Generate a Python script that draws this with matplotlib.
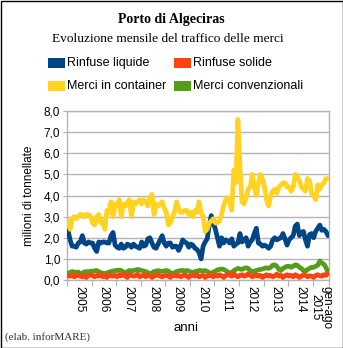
import matplotlib
matplotlib.use("Agg")
import matplotlib.pyplot as plt
from matplotlib.patches import Rectangle
from matplotlib.ticker import FuncFormatter
import numpy as np

# monthly values, million tonnes, Jan 2005 .. Aug 2015
years = ["2005", "2006", "2007", "2008", "2009", "2010", "2011", "2012", "2013", "2014", "gen-ago\n2015"]
months_per_year = [12, 12, 12, 12, 12, 12, 12, 12, 12, 12, 8]

liquide = [
    2.35, 1.9, 1.6, 1.6, 1.55, 1.75, 1.8, 2.1, 1.75, 1.7, 1.8, 1.75,
    1.75, 1.5, 1.35, 1.8, 1.75, 1.8, 1.8, 1.75, 1.75, 2.1, 2.25, 1.65,
    1.55, 1.5, 1.7, 1.5, 1.55, 1.7, 1.65, 1.55, 1.7, 1.6, 1.55, 1.5,
    1.8, 1.6, 1.65, 1.95, 2.0, 1.75, 1.55, 1.5, 1.7, 1.9, 2.1, 1.75,
    1.6, 1.75, 1.75, 1.55, 1.6, 1.6, 1.4, 1.6, 1.9, 1.8, 1.75, 1.55,
    1.7, 1.65, 1.5, 1.45, 1.3, 1.0, 1.6, 1.8, 1.95, 2.6, 3.05, 2.7,
    2.4, 2.0, 1.6, 2.0, 1.75, 1.9, 1.85, 1.75, 1.95, 1.6, 1.7, 1.75,
    2.2, 1.8, 1.9, 2.0, 1.6, 1.8, 1.9, 2.2, 2.45, 1.75, 1.7, 1.6,
    1.65, 1.6, 1.5, 1.6, 1.9, 2.0, 1.9, 1.95, 2.0, 2.2, 1.95, 1.65,
    1.9, 2.0, 2.1, 2.55, 2.65, 2.1, 2.25, 2.3, 1.9, 1.6, 2.15, 2.2,
    2.0, 2.3, 2.45, 2.6, 2.35, 2.4, 2.3, 2.1,
]
solide = [
    0.2, 0.18, 0.22, 0.15, 0.2, 0.25, 0.18, 0.15, 0.2, 0.12, 0.22, 0.25,
    0.2, 0.15, 0.22, 0.18, 0.28, 0.15, 0.2, 0.12, 0.25, 0.2, 0.18, 0.22,
    0.15, 0.25, 0.2, 0.3, 0.18, 0.12, 0.25, 0.22, 0.18, 0.2, 0.28, 0.15,
    0.2, 0.22, 0.15, 0.25, 0.2, 0.12, 0.18, 0.22, 0.25, 0.18, 0.15, 0.2,
    0.22, 0.18, 0.12, 0.2, 0.25, 0.18, 0.22, 0.15, 0.2, 0.25, 0.18, 0.12,
    0.2, 0.22, 0.18, 0.25, 0.15, 0.2, 0.22, 0.12, 0.18, 0.25, 0.2, 0.15,
    0.22, 0.18, 0.25, 0.2, 0.12, 0.2, 0.28, 0.22, 0.18, 0.3, 0.2, 0.15,
    0.22, 0.25, 0.18, 0.2, 0.3, 0.22, 0.15, 0.2, 0.25, 0.18, 0.22, 0.12,
    0.2, 0.25, 0.18, 0.22, 0.15, 0.2, 0.28, 0.18, 0.22, 0.12, 0.2, 0.25,
    0.18, 0.22, 0.15, 0.25, 0.2, 0.12, 0.18, 0.25, 0.22, 0.15, 0.2, 0.18,
    0.12, 0.22, 0.25, 0.2, 0.18, 0.25, 0.22, 0.3,
]
container = [
    2.8, 2.4, 2.9, 3.0, 2.9, 3.0, 3.1, 3.1, 3.0, 3.1, 3.1, 3.0,
    2.7, 2.6, 3.0, 3.1, 2.7, 2.8, 2.4, 3.3, 3.2, 3.7, 3.0, 3.6,
    3.5, 3.8, 3.0, 3.6, 3.5, 3.7, 3.8, 3.0, 3.7, 3.6, 3.7, 3.8,
    3.6, 3.8, 3.7, 3.5, 3.9, 4.05, 3.1, 3.6, 3.5, 3.6, 3.7, 3.4,
    3.2, 2.6, 2.7, 3.0, 3.2, 3.7, 3.4, 3.2, 3.2, 3.3, 3.3, 3.1,
    3.2, 3.0, 3.3, 3.2, 3.7, 3.2, 3.0, 2.3, 2.4, 2.7, 2.8, 2.9,
    2.7, 2.7, 2.8, 3.1, 3.5, 3.8, 3.9, 3.7, 3.3, 5.2, 4.6, 7.6,
    5.4, 3.7, 3.6, 3.9, 4.3, 4.4, 5.0, 4.4, 4.0, 4.6, 5.0, 4.8,
    4.4, 3.8, 3.5, 4.0, 4.2, 4.3, 4.1, 4.4, 4.5, 4.6, 4.6, 4.4,
    4.4, 4.2, 4.4, 5.0, 4.9, 4.7, 4.4, 4.3, 4.2, 4.8, 4.7, 4.1,
    4.0, 3.8, 4.5, 4.3, 4.5, 4.6, 4.8, 4.8,
]
convenzionali = [
    0.33, 0.35, 0.4, 0.38, 0.35, 0.38, 0.3, 0.32, 0.38, 0.4, 0.38, 0.42,
    0.4, 0.44, 0.45, 0.4, 0.35, 0.32, 0.3, 0.33, 0.38, 0.4, 0.42, 0.45,
    0.45, 0.47, 0.45, 0.38, 0.35, 0.4, 0.45, 0.42, 0.45, 0.47, 0.5, 0.48,
    0.45, 0.42, 0.4, 0.35, 0.3, 0.33, 0.4, 0.42, 0.45, 0.42, 0.4, 0.43,
    0.45, 0.42, 0.35, 0.3, 0.35, 0.4, 0.42, 0.45, 0.45, 0.43, 0.45, 0.42,
    0.38, 0.35, 0.4, 0.42, 0.45, 0.45, 0.42, 0.45, 0.4, 0.35, 0.3, 0.38,
    0.42, 0.48, 0.5, 0.52, 0.5, 0.45, 0.38, 0.32, 0.35, 0.45, 0.5, 0.55,
    0.52, 0.5, 0.55, 0.58, 0.55, 0.45, 0.4, 0.42, 0.45, 0.48, 0.5, 0.52,
    0.55, 0.58, 0.55, 0.6, 0.7, 0.72, 0.65, 0.5, 0.45, 0.55, 0.6, 0.65,
    0.65, 0.6, 0.65, 0.72, 0.7, 0.6, 0.55, 0.45, 0.4, 0.5, 0.55, 0.6,
    0.6, 0.65, 0.7, 0.9, 0.8, 0.75, 0.6, 0.35,
]

series = [
    ("Rinfuse liquide", liquide, "#004586"),
    ("Rinfuse solide", solide, "#ff420e"),
    ("Merci in container", container, "#ffd320"),
    ("Merci convenzionali", convenzionali, "#579d1c"),
]

SANS = "Liberation Sans"
SERIF = "Liberation Serif"
GRID = "#b3b3b3"

fig = plt.figure(figsize=(3.43, 3.48), dpi=100)
ax = fig.add_axes([67 / 343, 1 - 280 / 348, 262 / 343, 169 / 348])

n = len(liquide)
x = np.arange(n) + 0.5
# draw order: liquid, container, then the small series on top
for idx in (0, 2, 3, 1):
    label, vals, color = series[idx]
    ax.plot(x, vals, color=color, linewidth=3.4, solid_joinstyle="round",
            solid_capstyle="round", zorder=3)

ax.set_xlim(0, n)
ax.set_ylim(0, 8)
ax.set_yticks(np.arange(0, 9, 1))
ax.yaxis.set_major_formatter(FuncFormatter(lambda v, p: f"{v:.1f}".replace(".", ",")))
ax.grid(axis="y", color=GRID, linewidth=1.0, zorder=0)

bounds = np.concatenate([[0], np.cumsum(months_per_year)])
centers = (bounds[:-1] + bounds[1:]) / 2
ax.set_xticks(bounds)
ax.set_xticklabels([])
ax.set_xticks(centers, minor=True)
ax.set_xticklabels(years, minor=True, rotation=270, fontsize=8.5, family=SANS,
                   va="top", ha="center", linespacing=0.9)
ax.tick_params(axis="x", which="major", length=4, color=GRID, direction="out")
ax.tick_params(axis="x", which="minor", length=0, pad=4)
ax.tick_params(axis="y", length=3, color=GRID, labelsize=8.5, pad=2)
for lab in ax.get_yticklabels():
    lab.set_family(SANS)

for sp in ax.spines.values():
    sp.set_color(GRID)
    sp.set_linewidth(1.0)

ax.set_ylabel("milioni di tonnellate", family=SANS, fontsize=8.5, labelpad=6)
fig.text(186 / 343, 1 - 328 / 348, "anni", ha="center", va="center",
         family=SANS, fontsize=9.5)

fig.text(0.5, 1 - 20 / 348, "Porto di Algeciras", ha="center", va="center",
         family=SERIF, fontsize=10, fontweight="bold")
fig.text(168 / 343, 1 - 39 / 348, "Evoluzione mensile del traffico delle merci", ha="center",
         va="center", family=SERIF, fontsize=9.6)

# legend, two columns
leg_pos = [(48, 63), (174, 63), (48, 86), (174, 86)]
for (label, vals, color), (px, py) in zip(series, leg_pos):
    fig.patches.append(Rectangle((px / 343, 1 - (py + 5) / 348), 17 / 343, 10 / 348,
                                 transform=fig.transFigure, facecolor=color, edgecolor="none"))
    fig.text((px + 19) / 343, 1 - py / 348, label, ha="left", va="center",
             family=SANS, fontsize=9)

fig.text(5 / 343, 1 - 337 / 348, "(elab. inforMARE)", ha="left", va="center",
         family=SERIF, fontsize=8, color="#333333")

fig.patches.append(Rectangle((0.5 / 343, 0.5 / 348), 342 / 343, 347 / 348,
                             transform=fig.transFigure, fill=False, edgecolor="black",
                             linewidth=1.0))

fig.savefig("out.png", dpi=100)
